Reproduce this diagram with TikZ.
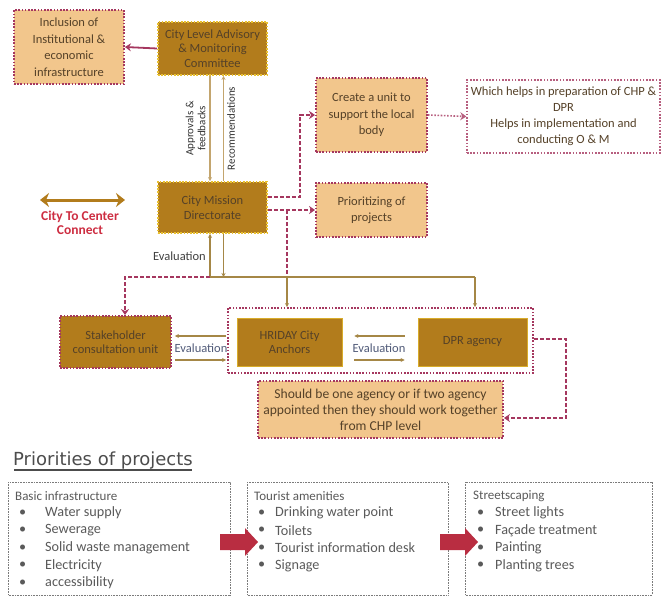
\documentclass[tikz,border=0pt]{standalone}
\usepackage{fontspec}
\setmainfont{Carlito}
\newfontfamily\titlefont{DejaVu Sans}
\usetikzlibrary{arrows.meta}
\definecolor{gold}{RGB}{178,124,28}
\definecolor{lorange}{RGB}{242,198,140}
\definecolor{pinkb}{RGB}{165,55,95}
\definecolor{yelb}{RGB}{232,192,50}
\definecolor{olivel}{RGB}{165,135,70}
\definecolor{tanl}{RGB}{195,165,110}
\definecolor{dtext}{RGB}{85,65,40}
\definecolor{redt}{RGB}{205,45,65}
\definecolor{blockr}{RGB}{185,45,65}
\definecolor{greyt}{RGB}{90,90,90}
\definecolor{evalc}{RGB}{80,90,120}
\tikzset{
  every node/.style={inner sep=1pt},
  dotb/.style={line width=1.8pt, dash pattern=on 1.6pt off 1.6pt},
  lbox/.style={draw=pinkb, dotb, fill=lorange, text=dtext, align=center, font=\fontsize{12.5}{16.5}\selectfont},
  gbox/.style={draw=yelb, dotb, fill=gold, text=dtext, align=center, font=\fontsize{12.5}{14.5}\selectfont},
  hbox/.style={draw=yelb!70!gold, line width=0.8pt, fill=gold, text=dtext, align=center, font=\fontsize{12.5}{14.5}\selectfont},
  pinkarrow/.style={draw=pinkb, line width=1.8pt, -{Stealth[length=6pt,width=8pt]}},
  pinkdash/.style={draw=pinkb, line width=1.6pt, dash pattern=on 4pt off 2pt},
  pinkdasharrow/.style={pinkdash, -{Stealth[length=6pt,width=8pt]}},
  olive/.style={draw=olivel, line width=1.1pt},
  olivearrow/.style={olive, -{Stealth[length=4pt,width=4pt]}},
  tanarrow/.style={draw=tanl, line width=1.3pt, -{Stealth[length=4pt,width=4pt]}},
  bbox/.style={draw=greyt!80, line width=1pt, dash pattern=on 0.8pt off 0.8pt, fill=white},
  bhead/.style={anchor=west, text=greyt, font=\fontsize{13}{15}\selectfont},
  btext/.style={anchor=west, text=greyt, font=\fontsize{14.2}{16}\selectfont},
  elabel/.style={font=\fontsize{12.5}{14}\selectfont, text=evalc}
}
\begin{document}
\begin{tikzpicture}[x=1pt,y=-1pt]
\useasboundingbox (0,0) rectangle (667,602);
% top boxes
\node[lbox, minimum width=110, minimum height=74] (inc) at (69,47) {Inclusion of\\Institutional \&\\economic\\infrastructure};
\node[gbox, minimum width=109, minimum height=53] (cla) at (212.5,48.5) {City Level Advisory\\\& Monitoring\\Committee};
\node[gbox, minimum width=109, minimum height=51] (cmd) at (212.5,207.5) {City Mission\\Directorate};
\node[lbox, minimum width=111, minimum height=74] (cu) at (371.5,115) {Create a unit to\\support the local\\body};
\node[draw=pinkb!80, dotb, line width=1.3pt, fill=white, text=dtext, align=center, font=\fontsize{12.5}{16}\selectfont, minimum width=193, minimum height=73] (wh) at (563.5,116.5) {Which helps in preparation of CHP \&\\DPR\\Helps in implementation and\\conducting O \& M};
\node[lbox, minimum width=111, minimum height=54] (pr) at (371.5,210) {Prioritizing of\\projects};
% city to center
\coordinate (cc1) at (40,200);
\coordinate (cc2) at (125,200);
\draw[draw=gold, line width=3pt, {Stealth[length=9pt,width=14pt]}-{Stealth[length=9pt,width=14pt]}] (cc1) -- (cc2);
\node[text=redt, font=\bfseries\fontsize{13.5}{14.5}\selectfont, align=center] (ctc) at (80,223) {City To Center\\Connect};
% lower boxes
\node[draw=pinkb, dotb, fill=gold, text=dtext, align=center, font=\fontsize{12.5}{14.5}\selectfont, minimum width=111, minimum height=52] (sc) at (115.5,342) {Stakeholder\\consultation unit};
\node[draw=pinkb, dotb, fill=white, minimum width=305, minimum height=65] (grp) at (380.5,340.5) {};
\node[hbox, minimum width=105, minimum height=48] (hr) at (289.5,342) {HRIDAY City\\Anchors};
\node[hbox, minimum width=109, minimum height=48] (dpr) at (472.5,342) {DPR agency};
\node[lbox, minimum width=245, minimum height=57, font=\fontsize{13.6}{16}\selectfont] (sh) at (380.5,409.5) {Should be one agency or if two agency\\appointed then they should work together\\from CHP level};
% connectors top
\draw[pinkarrow] (cla.west) -- (inc.east);
\coordinate (a1) at (210,0);
\coordinate (a2) at (223.5,0);
\draw[tanarrow] (cla.south -| a1) -- (cmd.north -| a1) node[midway, left=3pt, rotate=90, anchor=south, font=\fontsize{11}{12}\selectfont, text=black!80, align=center] (apl) {Approvals \&\\feedbacks};
\draw[tanarrow] (cmd.north -| a2) -- (cla.south -| a2) node[midway, right=2pt, rotate=90, anchor=north, font=\fontsize{11}{12}\selectfont, text=black!80] (rcl) {Recommendations};
% right dashed connectors
\coordinate (c1) at (300,197);
\draw[pinkdasharrow] (cmd.east |- c1) -- (c1) -- (c1 |- cu.west) -- (cu.west);
\draw[pinkdasharrow] (cmd.east |- pr.west) -- (pr.west);
\coordinate (hL) at (210,277);
\coordinate (hR) at (475,277);
\coordinate (hM) at (287,277);
\coordinate (hS) at (125,277);
\draw[pinkdash] (hM |- pr.west) -- (hM);
\draw[olivearrow] (hM) -- (hM |- grp.north);
\draw[olive] (hL) -- (hR);
\draw[olivearrow] (hR) -- (hR |- grp.north);
\draw[olivearrow] (hL) -- (cmd.south -| hL);
\draw[olivearrow] (cmd.south -| a2) -- (a2 |- hL);
\node[font=\fontsize{12.5}{14}\selectfont, text=black!75, anchor=east] (ev0) at (207,256) {Evaluation};
\draw[pinkdasharrow] (hL) -- (hS) -- (sc.north -| hS);
\draw[pinkarrow, draw=pinkb!80, line width=1.6pt, dash pattern=on 1.6pt off 1.6pt] (cu.east) -- (wh.west);
% evaluation arrows
\coordinate (y1) at (0,336);
\coordinate (y2) at (0,360);
\draw[olivearrow, shorten <=1pt, shorten >=3pt] (grp.west |- y1) -- (sc.east |- y1);
\draw[olivearrow, shorten <=3pt, shorten >=1pt] (sc.east |- y2) -- (grp.west |- y2);
\node[elabel] (ev1) at (201,348) {Evaluation};
\draw[olivearrow, shorten <=13pt, shorten >=12pt] (dpr.west |- y1) -- (hr.east |- y1);
\draw[olivearrow, shorten <=12pt, shorten >=13pt] (hr.east |- y2) -- (dpr.west |- y2);
\node[elabel] (ev2) at (379,348) {Evaluation};
\coordinate (c3) at (566,339);
\coordinate (c4) at (566,418);
\draw[pinkdasharrow] (grp.east |- c3) -- (c3) -- (c4) -- (sh.east |- c4);
% priorities
\node[anchor=west, text=black!70, font=\titlefont\fontsize{18}{20}\selectfont] (pt) at (12,461) {Priorities of projects};
\draw[black!70, line width=1.5pt] (pt.south west) ++(2,-1) -- ([shift={(-2,-1)}]pt.south east);
\draw[bbox] (8,482) rectangle (230,595);
\draw[bbox] (247,482) rectangle (448,595);
\draw[bbox] (465,482) rectangle (652,595);
\node[bhead] (b1h) at (14,496) {Basic infrastructure};
\node[btext] (b1a) at (18,513) {•};
\node[btext] (b1at) at (44,513) {Water supply};
\node[btext] (b1b) at (18,530.5) {•};
\node[btext] (b1bt) at (44,530.5) {Sewerage};
\node[btext] (b1c) at (18,548) {•};
\node[btext] (b1ct) at (44,548) {Solid waste management};
\node[btext] (b1d) at (18,565.5) {•};
\node[btext] (b1dt) at (44,565.5) {Electricity};
\node[btext] (b1e) at (18,583) {•};
\node[btext] (b1et) at (44,583) {accessibility};
\node[bhead] (b2h) at (253,496) {Tourist amenities};
\node[btext] (b2a) at (257,513) {•};
\node[btext] (b2at) at (274,513) {Drinking water point};
\node[btext] (b2b) at (257,530.5) {•};
\node[btext] (b2bt) at (274,530.5) {Toilets};
\node[btext] (b2c) at (257,548) {•};
\node[btext] (b2ct) at (274,548) {Tourist information desk};
\node[btext] (b2d) at (257,565.5) {•};
\node[btext] (b2dt) at (274,565.5) {Signage};
\node[bhead] (b3h) at (472,496) {Streetscaping};
\node[btext] (b3a) at (476,513) {•};
\node[btext] (b3at) at (494,513) {Street lights};
\node[btext] (b3b) at (476,530.5) {•};
\node[btext] (b3bt) at (494,530.5) {Façade treatment};
\node[btext] (b3c) at (476,548) {•};
\node[btext] (b3ct) at (494,548) {Painting};
\node[btext] (b3d) at (476,565.5) {•};
\node[btext] (b3dt) at (494,565.5) {Planting trees};
% block arrows
\fill[blockr] (220,534) -- (245,534) -- (245,528) -- (258,542) -- (245,556) -- (245,550) -- (220,550) -- cycle;
\fill[blockr] (440,534) -- (465,534) -- (465,528) -- (478,542) -- (465,556) -- (465,550) -- (440,550) -- cycle;
\end{tikzpicture}
\end{document}
